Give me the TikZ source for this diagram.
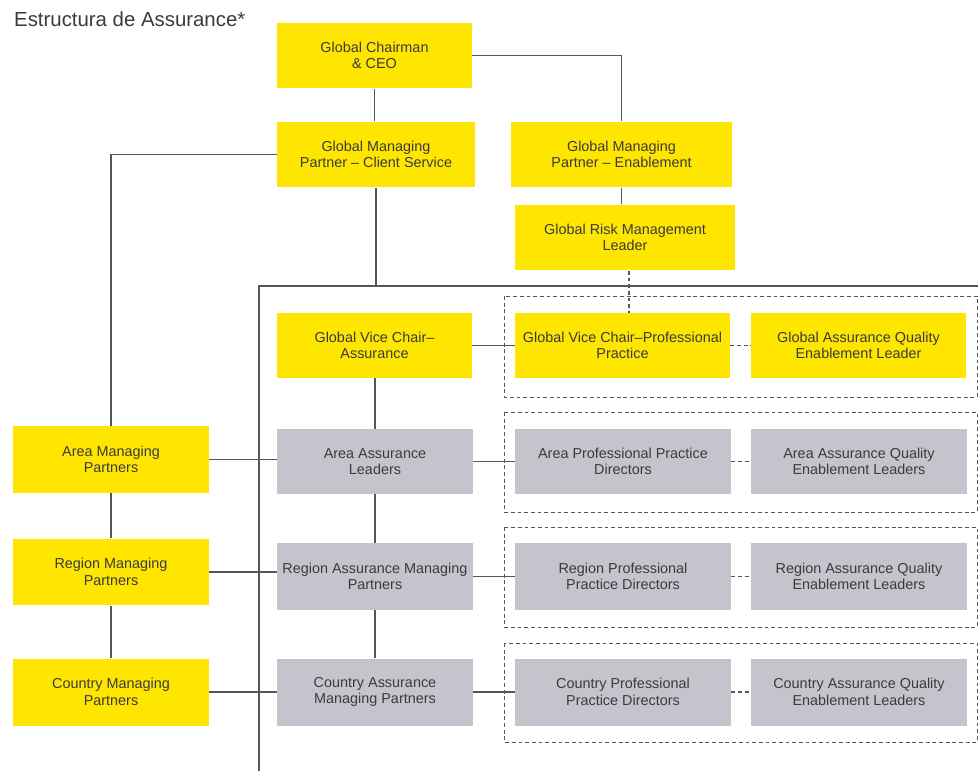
\documentclass[tikz,border=0pt]{standalone}
\usepackage{fontspec}
\setmainfont{Liberation Sans}
\usetikzlibrary{calc}

\definecolor{eyyellow}{HTML}{FFE600}
\definecolor{eygrey}{HTML}{C4C4CD}
\definecolor{eyline}{HTML}{55555D}
\definecolor{eytext}{HTML}{3A3A40}

\tikzset{
    unit/.style={inner sep=0pt, align=center, text=eytext,
        font=\fontsize{8.2}{9.4}\selectfont,
        minimum width=3.9cm, minimum height=1.32cm},
    yellowunit/.style={unit, fill=eyyellow},
    greyunit/.style={unit, fill=eygrey},
    link/.style={draw=eyline, line width=0.8pt},
    dotlink/.style={draw=eyline, line width=0.6pt, dash pattern=on 2.2pt off 1.6pt},
    groupframe/.style={draw=eyline, line width=0.5pt, dash pattern=on 2.2pt off 1.6pt}
}

\begin{document}
\begin{tikzpicture}[x=0.02cm, y=-0.02cm]
\useasboundingbox (0,0) rectangle (978,771);

% Title
\node[anchor=west, text=eytext, font=\fontsize{11.6}{13}\selectfont] (title) at (8,19) {Estructura de Assurance*};

% Global level
\node[yellowunit] (ceo) at (374.5,55.5) {Global Chairman\\\& CEO};
\node[yellowunit, minimum width=3.96cm] (gmpcs) at (376,154.5) {Global Managing\\Partner -- Client Service};
\node[yellowunit, minimum width=4.42cm] (gmpe) at (621.5,154.5) {Global Managing\\Partner -- Enablement};
\node[yellowunit, minimum width=4.4cm] (grml) at (625,237.5) {Global Risk Management\\Leader};

% Bus lines
\coordinate (busL) at (259,286);
\coordinate (busR) at (978,286);
\coordinate (busB) at (259,771);

% Dashed groups
\draw[groupframe] (504,296) rectangle (977,397);
\draw[groupframe] (504,412) rectangle (977,512);
\draw[groupframe] (504,527) rectangle (977,627);
\draw[groupframe] (504,643) rectangle (977,742);

% Vice chair row
\node[yellowunit, minimum height=1.3cm] (gvca) at (374.5,345.5) {Global Vice Chair--\\Assurance};
\node[yellowunit, minimum width=4.3cm, minimum height=1.3cm] (gvcpp) at (622.5,345.5) {Global Vice Chair--Professional\\Practice};
\node[yellowunit, minimum width=4.3cm, minimum height=1.3cm] (gaqel) at (858.5,345.5) {Global Assurance Quality\\Enablement Leader};

% Managing partners (left column)
\node[yellowunit, minimum width=3.92cm, minimum height=1.34cm] (amp) at (111,459.5) {Area Managing\\Partners};
\node[yellowunit, minimum width=3.92cm, minimum height=1.34cm] (rmp) at (111,572) {Region Managing\\Partners};
\node[yellowunit, minimum width=3.92cm, minimum height=1.34cm] (cmp) at (111,692) {Country Managing\\Partners};

% Assurance column
\node[greyunit, minimum width=3.92cm, minimum height=1.3cm] (aal) at (375,461.5) {Area Assurance\\Leaders};
\node[greyunit, minimum width=3.92cm, minimum height=1.34cm] (ramp) at (375,576.5) {Region Assurance Managing\\Partners};
\node[greyunit, minimum width=3.92cm, minimum height=1.34cm] (camp) at (375,692) {Country Assurance\\Managing Partners};

% Professional practice and quality
\node[greyunit, minimum width=4.32cm, minimum height=1.3cm] (app) at (623,461.5) {Area Professional Practice\\Directors};
\node[greyunit, minimum width=4.32cm, minimum height=1.3cm] (aaq) at (859,461.5) {Area Assurance Quality\\Enablement Leaders};
\node[greyunit, minimum width=4.32cm, minimum height=1.34cm] (rpp) at (623,576.5) {Region Professional\\Practice Directors};
\node[greyunit, minimum width=4.32cm, minimum height=1.34cm] (raq) at (859,576.5) {Region Assurance Quality\\Enablement Leaders};
\node[greyunit, minimum width=4.32cm, minimum height=1.34cm] (cpp) at (623,692) {Country Professional\\Practice Directors};
\node[greyunit, minimum width=4.32cm, minimum height=1.34cm] (caq) at (859,692) {Country Assurance Quality\\Enablement Leaders};

% Top links
\draw[link] (ceo.south) -- (ceo.south |- gmpcs.north);
\draw[link] (ceo.east) -| (gmpe.north);
\draw[link] (gmpe.south) -- (gmpe.south |- grml.north);
\draw[dotlink] ($(grml.south)+(4,0)$) -- ($(grml.south |- gvcpp.north)+(4,0)$);
\draw[link] (gmpcs.west) -| (amp.north);
\draw[link] (gmpcs.south) -- (gmpcs.south |- busL);
\draw[link] (busR) -- (busL) -- (busB);

% Assurance chain
\draw[link] (aal.north |- gvca.south) -- (aal.north);
\draw[link] (aal.south) -- (ramp.north);
\draw[link] (ramp.south) -- (camp.north);
\draw[link] (amp.south) -- (rmp.north);
\draw[link] (rmp.south) -- (cmp.north);

% Horizontal links
\draw[link] (amp.east) -- (amp.east -| aal.west);
\draw[link] (rmp.east) -- (rmp.east -| ramp.west);
\draw[link] (cmp.east) -- (camp.west);
\draw[link] (gvca.east) -- (gvcpp.west);
\draw[link] (aal.east) -- (app.west);
\draw[link] (ramp.east) -- (rpp.west);
\draw[link] (camp.east) -- (cpp.west);
\draw[dotlink] (gvcpp.east) -- (gaqel.west);
\draw[dotlink] (app.east) -- (aaq.west);
\draw[dotlink] (rpp.east) -- (raq.west);
\draw[dotlink] (cpp.east) -- (caq.west);

\end{tikzpicture}
\end{document}
